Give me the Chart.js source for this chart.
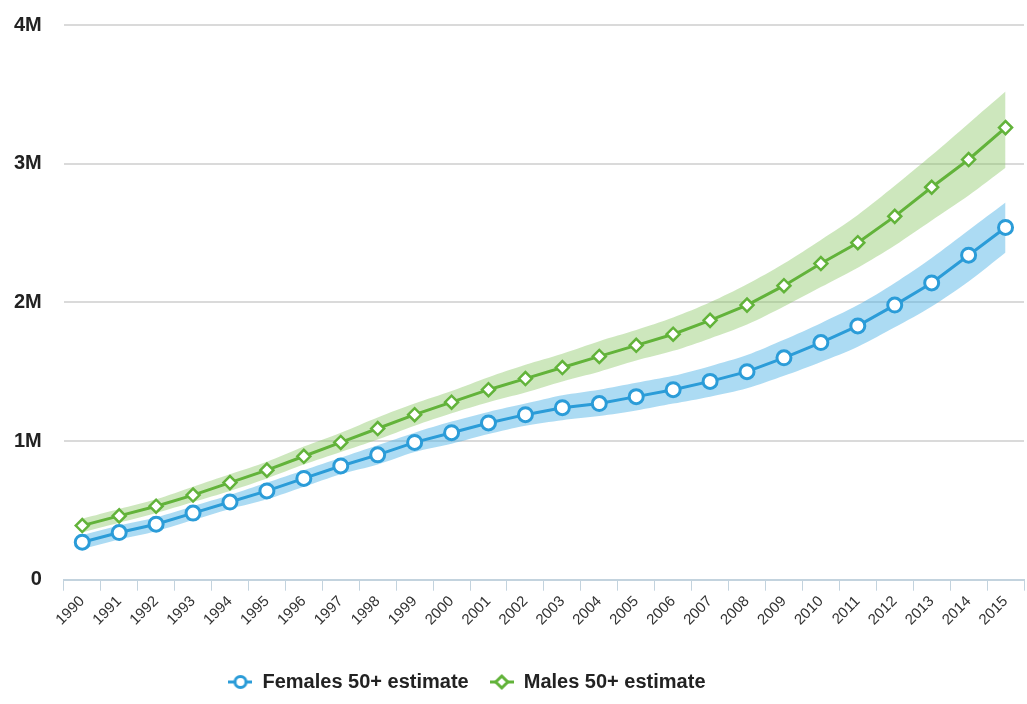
<!DOCTYPE html>
<html>
<head>
<meta charset="utf-8">
<script src="https://cdn.jsdelivr.net/npm/chart.js@4.4.1/dist/chart.umd.min.js"></script>
<style>
    html, body { margin: 0; padding: 0; background: #fff; overflow: hidden; }
    #wrap { width: 1034px; height: 704px; }
</style>
</head>
<body>
<div id="wrap"><canvas id="trendChart"></canvas></div>
<script>
// Years on the x axis
const years = ['1990', '1991', '1992', '1993', '1994', '1995', '1996', '1997', '1998', '1999',
    '2000', '2001', '2002', '2003', '2004', '2005', '2006', '2007', '2008', '2009',
    '2010', '2011', '2012', '2013', '2014', '2015'];

// Estimates, in millions
const femalesEstimate = [0.27, 0.34, 0.40, 0.48, 0.56, 0.64, 0.73, 0.82, 0.90, 0.99,
    1.06, 1.13, 1.19, 1.24, 1.27, 1.32, 1.37, 1.43, 1.50, 1.60,
    1.71, 1.83, 1.98, 2.14, 2.34, 2.54];
const femalesUpper = [0.32, 0.39, 0.45, 0.53, 0.61, 0.70, 0.79, 0.88, 0.97, 1.06,
    1.14, 1.21, 1.27, 1.33, 1.37, 1.42, 1.47, 1.54, 1.62, 1.73,
    1.85, 1.98, 2.14, 2.32, 2.52, 2.72];
const femalesLower = [0.22, 0.29, 0.35, 0.43, 0.51, 0.58, 0.67, 0.76, 0.83, 0.92,
    0.98, 1.05, 1.11, 1.15, 1.18, 1.22, 1.27, 1.32, 1.38, 1.47,
    1.57, 1.68, 1.82, 1.97, 2.15, 2.36];

const malesEstimate = [0.39, 0.46, 0.53, 0.61, 0.70, 0.79, 0.89, 0.99, 1.09, 1.19,
    1.28, 1.37, 1.45, 1.53, 1.61, 1.69, 1.77, 1.87, 1.98, 2.12,
    2.28, 2.43, 2.62, 2.83, 3.03, 3.26];
const malesUpper = [0.44, 0.51, 0.58, 0.67, 0.76, 0.85, 0.96, 1.06, 1.17, 1.27,
    1.36, 1.46, 1.55, 1.63, 1.72, 1.80, 1.89, 2.00, 2.13, 2.28,
    2.45, 2.63, 2.84, 3.06, 3.29, 3.52];
const malesLower = [0.34, 0.41, 0.48, 0.56, 0.64, 0.73, 0.83, 0.92, 1.01, 1.11,
    1.20, 1.28, 1.35, 1.43, 1.50, 1.58, 1.65, 1.74, 1.84, 1.97,
    2.11, 2.25, 2.41, 2.59, 2.77, 2.97];

const toPeople = arr => arr.map(v => v * 1e6);

const blue = '#2b9cd8';
const green = '#62b33a';

// little "-o-" marker for the legend
function legendMarker(color, style) {
    const c = document.createElement('canvas');
    c.width = 24; c.height = 18;
    const g = c.getContext('2d');
    g.strokeStyle = color;
    g.lineWidth = 3;
    g.beginPath(); g.moveTo(0, 9); g.lineTo(24, 9); g.stroke();
    g.fillStyle = '#fff';
    g.beginPath();
    if (style === 'circle') {
        g.arc(12, 9, 5.5, 0, Math.PI * 2);
    } else {
        g.moveTo(12, 3); g.lineTo(18, 9); g.lineTo(12, 15); g.lineTo(6, 9); g.closePath();
    }
    g.fill(); g.stroke();
    return c;
}

// nudge legend a bit to the left, like the original
const legendShift = {
    id: 'legendShift',
    afterLayout(chart) {
        chart.legend.right -= 92;
    }
};

const ctx = document.getElementById('trendChart').getContext('2d');
new Chart(ctx, {
    type: 'line',
    data: {
        labels: years,
        datasets: [
            {
                label: 'Females 50+ estimate',
                data: toPeople(femalesEstimate),
                borderColor: blue,
                backgroundColor: '#fff',
                borderWidth: 3,
                pointStyle: 'circle',
                pointRadius: 7,
                pointBorderWidth: 3,
                pointBackgroundColor: '#fff',
                pointBorderColor: blue,
                fill: false,
                order: 0
            },
            {
                label: 'Males 50+ estimate',
                data: toPeople(malesEstimate),
                borderColor: green,
                backgroundColor: '#fff',
                borderWidth: 3,
                pointStyle: 'rectRot',
                pointRadius: 6.5,
                pointBorderWidth: 2.5,
                pointBackgroundColor: '#fff',
                pointBorderColor: green,
                fill: false,
                order: 0
            },
            {
                label: 'females upper',
                data: toPeople(femalesUpper),
                borderWidth: 0,
                pointRadius: 0,
                tension: 0.3,
                backgroundColor: 'rgba(70, 175, 228, 0.45)',
                fill: 3,
                order: 2
            },
            {
                label: 'females lower',
                data: toPeople(femalesLower),
                borderWidth: 0,
                pointRadius: 0,
                tension: 0.3,
                fill: false,
                order: 2
            },
            {
                label: 'males upper',
                data: toPeople(malesUpper),
                borderWidth: 0,
                pointRadius: 0,
                tension: 0.3,
                backgroundColor: 'rgba(130, 195, 90, 0.40)',
                fill: 5,
                order: 1
            },
            {
                label: 'males lower',
                data: toPeople(malesLower),
                borderWidth: 0,
                pointRadius: 0,
                tension: 0.3,
                fill: false,
                order: 1
            }
        ]
    },
    options: {
        responsive: true,
        maintainAspectRatio: false,
        animation: false,
        layout: {
            padding: { top: 25, left: -8, right: 0, bottom: 2 }
        },
        plugins: {
            legend: {
                display: true,
                position: 'bottom',
                labels: {
                    usePointStyle: true,
                    pointStyleWidth: 24,
                    color: '#222',
                    padding: 21,
                    font: { family: 'Liberation Sans', size: 20, weight: 'bold' },
                    filter: item => item.datasetIndex < 2,
                    generateLabels: chart => {
                        const items = Chart.defaults.plugins.legend.labels.generateLabels(chart);
                        items.forEach(item => {
                            if (item.datasetIndex === 0) item.pointStyle = legendMarker(blue, 'circle');
                            if (item.datasetIndex === 1) item.pointStyle = legendMarker(green, 'diamond');
                        });
                        return items;
                    }
                }
            },
            tooltip: { enabled: false }
        },
        scales: {
            x: {
                offset: true,
                grid: {
                    offset: true,
                    drawOnChartArea: false,
                    drawTicks: true,
                    tickLength: 11,
                    color: '#c3d3de'
                },
                border: { color: '#c3d3de', width: 2 },
                ticks: {
                    color: '#333',
                    minRotation: 45,
                    maxRotation: 45,
                    autoSkip: false,
                    padding: 2,
                    font: { family: 'Liberation Sans', size: 15 }
                },
                afterFit: scale => {
                    scale.paddingLeft = 0;
                    scale.height += 20;
                }
            },
            y: {
                min: 0,
                max: 4000000,
                border: { display: false },
                grid: {
                    color: '#dadada',
                    lineWidth: 2,
                    drawTicks: false
                },
                ticks: {
                    stepSize: 1000000,
                    padding: 22,
                    color: '#222',
                    font: { family: 'Liberation Sans', size: 20, weight: 'bold' },
                    callback: value => value === 0 ? '0' : (value / 1000000) + 'M'
                },
                afterFit: scale => {
                    scale.paddingTop = 12;
                    scale.paddingBottom = 0;
                }
            }
        }
    },
    plugins: [legendShift]
});
</script>
</body>
</html>
